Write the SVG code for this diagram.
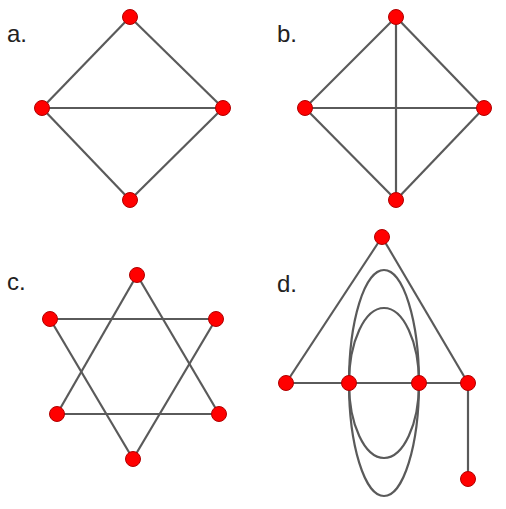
<svg xmlns="http://www.w3.org/2000/svg" width="506" height="509" viewBox="0 0 506 509">
<style>
.e{stroke:#5a5a5a;stroke-width:2.2;fill:none}
.n{fill:#ff0000;stroke:#b00000;stroke-width:1}
.l{font-family:"Liberation Sans",Arial,sans-serif;font-size:24px;fill:#222}
</style>
<rect width="506" height="509" fill="#fff"/>
<g id="connectors">
<line class="e" x1="130" y1="17" x2="42" y2="108"/>
<line class="e" x1="130" y1="17" x2="223" y2="108"/>
<line class="e" x1="42" y1="108" x2="223" y2="108"/>
<line class="e" x1="42" y1="108" x2="130" y2="200"/>
<line class="e" x1="223" y1="108" x2="130" y2="200"/>
<line class="e" x1="396" y1="17" x2="305" y2="108"/>
<line class="e" x1="396" y1="17" x2="484" y2="108"/>
<line class="e" x1="396" y1="17" x2="396" y2="200"/>
<line class="e" x1="305" y1="108" x2="484" y2="108"/>
<line class="e" x1="305" y1="108" x2="396" y2="200"/>
<line class="e" x1="484" y1="108" x2="396" y2="200"/>
<line class="e" x1="137" y1="275" x2="57" y2="414"/>
<line class="e" x1="137" y1="275" x2="219" y2="414"/>
<line class="e" x1="50" y1="319" x2="216" y2="319"/>
<line class="e" x1="50" y1="319" x2="133" y2="459"/>
<line class="e" x1="216" y1="319" x2="133" y2="459"/>
<line class="e" x1="57" y1="414" x2="219" y2="414"/>
<line class="e" x1="382" y1="237" x2="286" y2="383"/>
<line class="e" x1="382" y1="237" x2="468" y2="383"/>
<line class="e" x1="286" y1="383" x2="468" y2="383"/>
<line class="e" x1="468" y1="383" x2="468" y2="479"/>
<ellipse class="e" cx="384" cy="383" rx="35" ry="113"/>
<ellipse class="e" cx="384" cy="383" rx="35" ry="75"/>
</g>
<g id="label-a"><text class="l" x="7" y="42">a.</text></g>
<g id="label-b"><text class="l" x="277" y="42">b.</text></g>
<g id="label-c"><text class="l" x="7" y="290">c.</text></g>
<g id="label-d"><text class="l" x="277" y="292">d.</text></g>
<g id="a-top"><circle class="n" cx="130" cy="17" r="7.5"/></g>
<g id="a-left"><circle class="n" cx="42" cy="108" r="7.5"/></g>
<g id="a-right"><circle class="n" cx="223" cy="108" r="7.5"/></g>
<g id="a-bottom"><circle class="n" cx="130" cy="200" r="7.5"/></g>
<g id="b-top"><circle class="n" cx="396" cy="17" r="7.5"/></g>
<g id="b-left"><circle class="n" cx="305" cy="108" r="7.5"/></g>
<g id="b-right"><circle class="n" cx="484" cy="108" r="7.5"/></g>
<g id="b-bottom"><circle class="n" cx="396" cy="200" r="7.5"/></g>
<g id="c-top"><circle class="n" cx="137" cy="275" r="7.5"/></g>
<g id="c-ul"><circle class="n" cx="50" cy="319" r="7.5"/></g>
<g id="c-ur"><circle class="n" cx="216" cy="319" r="7.5"/></g>
<g id="c-ll"><circle class="n" cx="57" cy="414" r="7.5"/></g>
<g id="c-lr"><circle class="n" cx="219" cy="414" r="7.5"/></g>
<g id="c-bottom"><circle class="n" cx="133" cy="459" r="7.5"/></g>
<g id="d-top"><circle class="n" cx="382" cy="237" r="7.5"/></g>
<g id="d-1"><circle class="n" cx="286" cy="383" r="7.5"/></g>
<g id="d-2"><circle class="n" cx="349" cy="383" r="7.5"/></g>
<g id="d-3"><circle class="n" cx="419" cy="383" r="7.5"/></g>
<g id="d-4"><circle class="n" cx="468" cy="383" r="7.5"/></g>
<g id="d-bottom"><circle class="n" cx="468" cy="479" r="7.5"/></g>
</svg>
